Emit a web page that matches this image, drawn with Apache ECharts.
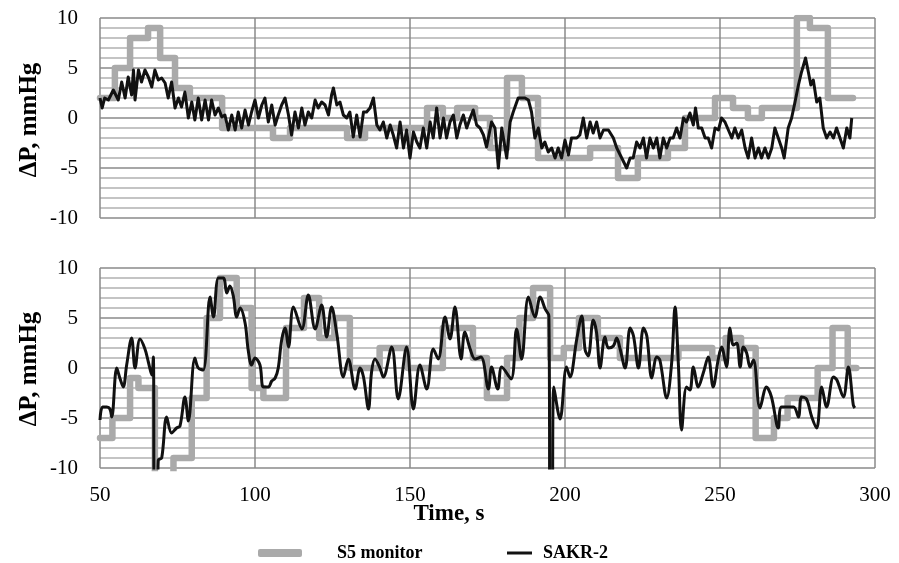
<!DOCTYPE html>
<html><head><meta charset="utf-8">
<script src="https://cdn.jsdelivr.net/npm/echarts@6/dist/echarts.min.js"></script>
<style>html,body{margin:0;padding:0;background:#fff}#c{width:899px;height:563px}</style>
</head><body><div id="c"></div>
<script>
// axis settings
const xTicks = [50, 100, 150, 200, 250, 300];
const yTicks = [-10, -5, 0, 5, 10];
const seriesNames = ['S5 monitor', 'SAKR-2'];
const xTitle = 'Time, s';
const yTitle = 'ΔP, mmHg';

// Top panel – S5 monitor (step values: each value holds until next time)
const topS5Time = [50,54.8,59.7,65.5,69.4,74.2,79,89.4,105.8,111.3,129.7,135.5,155.5,160.6,165.2,171,175.8,181.3,186.1,191.3,208.1,217.1,223.5,233.2,238.7,248.4,254.2,259,263.5,274.8,279,284.8,292.9];
const topS5Val  = [2,5,8,9,6,3,2,-1,-2,-1,-2,-1,1,0,1,0,-3,4,2,-4,-3,-6,-4,-3,0,2,1,0,1,10,9,2,2];

// Top panel – SAKR-2
const topSakrTime = [50,50.7,51.5,52.7,54.3,55.9,57.0,58.1,59.1,60.2,60.8,61.3,62.4,63.4,64.5,65.6,66.7,67.7,68.8,69.9,71.0,72.0,73.1,74.2,75.3,76.3,77.4,78.5,79.6,80.6,81.7,82.8,83.9,85.0,86.0,87.1,88.2,89.3,90.3,91.4,92.5,93.6,94.6,95.7,96.8,97.9,98.9,100.0,101.1,102.2,103.2,104.3,105.4,106.5,107.5,108.6,109.7,110.8,111.8,112.9,114.0,115.1,116.1,117.2,118.3,119.4,120.4,121.5,122.6,123.7,124.7,125.3,126.4,127.4,128.5,129.6,130.6,131.7,132.8,133.9,135.0,136.0,137.1,138.2,139.3,140.3,141.4,142.5,143.6,144.6,145.7,146.8,147.9,148.9,150.0,151.1,152.2,153.2,154.3,155.4,156.5,157.5,158.6,159.7,160.8,161.8,162.9,164.0,165.1,166.1,167.2,168.3,169.4,170.4,171.5,172.6,173.7,174.7,176.3,177.4,178.5,179.6,181.2,182.3,183.3,184.9,187.1,188.2,189.2,190.3,191.4,192.5,193.5,194.6,195.7,196.8,197.8,198.9,200.0,201.1,202.1,203.8,204.8,205.9,207.0,208.1,209.1,210.2,211.3,212.4,214.0,215.6,216.7,218.3,219.9,221.0,222.0,223.1,224.2,225.3,226.3,227.4,228.5,229.6,230.6,231.7,232.8,233.9,234.9,236.0,237.1,238.2,239.2,240.3,241.4,242.1,243.0,244.1,245.2,246.2,247.3,248.4,249.5,250.5,251.6,252.7,253.8,254.8,255.9,257.0,258.1,259.1,260.2,261.3,262.4,263.4,264.5,265.6,266.7,267.7,268.8,269.9,270.7,272.0,273.1,274.2,275.3,276.3,277.6,278.5,279.3,280.1,281.2,282.2,283.3,284.4,285.5,286.6,287.6,288.7,289.8,290.9,291.9,292.5];
const topSakrVal  = [2.0,1.0,2.0,1.8,2.8,1.8,3.6,2.0,4.1,2.3,4.8,1.8,4.8,3.6,4.8,4.1,3.1,4.8,3.8,4.0,3.5,2.0,3.6,1.0,2.0,1.1,2.6,0,1.6,-0.2,2.0,-0.2,1.8,-0.2,1.8,0.3,1.0,0.1,0.3,-1.2,0.3,-1.2,0.6,-1.0,0.8,-0.7,0.6,1.8,0,1.3,2.0,-0.4,1.3,-0.7,0.3,1.3,2.0,0.3,-1.7,0.6,-1.0,1.0,-0.7,0.6,0,1.8,1.0,1.6,1.3,0.3,2.3,3.0,1.3,1.6,0.3,0,0.6,-1.9,0.3,-1.9,0.6,0.6,1.0,2.0,-0.7,-1.2,-0.4,-2.0,-0.7,-1.7,-3.0,-0.4,-3.0,-1.2,-4.0,-1.4,-2.4,-3.0,-1.0,-3.0,-0.4,-2.0,1.0,-2.0,0,-2.0,-0.4,0.3,-2.0,-0.7,0.3,-1.0,0,0.8,-0.7,-1.0,-1.7,-2.9,-0.4,-1.0,-5.0,-1.0,-4.0,-0.4,0.6,2.0,2.0,1.8,0.6,-2.0,-1.0,-3.0,-2.4,-3.4,-3.0,-4.0,-3.0,-4.0,-2.2,-3.7,-2.0,-2.0,-1.7,0,-2.0,-0.4,-1.5,-0.4,-2.0,-1.2,-1.2,-2.0,-3.0,-4.0,-5.0,-4.0,-4.0,-2.4,-3.0,-2.0,-4.0,-2.0,-3.0,-2.0,-4.0,-2.0,-3.0,-2.0,-2.0,-1.0,-2.0,0,-0.4,0.5,-0.7,1.0,-1.0,-1.0,-2.0,-2.0,-3.0,-1.0,-1.2,0,-0.4,-1.2,-2.0,-1.0,-2.0,-1.2,-3.0,-4.0,-2.0,-4.0,-3.0,-4.0,-3.0,-4.0,-3.0,-1.0,-2.0,-3.0,-4.0,-1.0,0,1.6,3.3,4.6,6.0,4.6,3.3,3.8,1.6,2.0,-1.0,-2.0,-1.4,-2.0,-1.0,-2.0,-3.0,-1.0,-2.0,0];

// Bottom panel – S5 monitor
const botS5Time = [50,54,59.7,62.4,67.7,73.7,79.6,84.4,88.7,94.1,98.9,102.7,110,115.8,120.7,125.6,130.6,140.2,149.3,160.6,170.3,174.8,181.3,185.3,189.7,195.2,199.6,204.5,210.6,217.7,236.6,247.5,251.8,256.8,261.5,267.4,271.8,281.5,286.3,291.2,294];
const botS5Val  = [-7,-5,-1,-2,-11,-9,-3,5,9,6,-2,-3,4,7,3,5,0,2,0,4,1,-3,1,5,8,1,2,5,3,1,2,1,3,2,-7,-5,-3,0,4,0,0];

// Bottom panel – SAKR-2
const botSakrTime = [50.0,50.8,52.2,53.2,53.8,55.4,56.5,57.5,58.6,60.2,61.3,62.9,64.5,65.6,66.7,67.2,67.6,68.4,68.8,69.9,71.5,73.1,74.7,75.8,77.4,78.5,80.6,81.7,83.3,85.5,86.6,88.2,89.8,90.9,91.9,93.0,94.1,95.2,96.8,97.8,98.9,100.0,101.6,102.7,104.3,105.4,106.5,107.5,108.6,109.7,110.8,112.4,115.1,117.2,119.4,121.5,123.1,124.7,126.4,128.5,130.1,132.3,133.9,135.0,136.6,137.6,138.7,140.3,141.4,144.1,146.2,148.9,151.1,153.2,155.4,157.5,159.1,161.3,162.9,164.5,166.5,167.7,169.4,171.0,172.9,175.3,176.3,178.3,179.6,182.6,184.4,186.0,188.2,190.3,192.0,193.6,194.8,195.2,195.8,196.4,198.4,200.5,201.6,203.8,205.4,206.5,207.5,209.1,210.2,211.3,212.9,214.0,215.6,216.7,217.7,219.4,221.0,222.1,223.7,225.3,226.4,228.0,229.6,230.6,232.8,234.4,235.5,236.6,237.6,239.2,240.3,241.4,243.0,244.6,246.2,247.8,249.4,250.5,252.1,253.2,254.3,255.4,256.5,257.5,258.6,259.7,260.8,262.9,265.0,266.6,268.8,269.9,273.7,275.3,276.3,277.9,279.6,281.2,282.8,284.4,286.6,287.7,289.8,291.4,293.0,293.5];
const botSakrVal  = [-5.2,-3.9,-3.9,-4.1,-4.9,0,-1.1,-1.9,0.3,3.0,0,2.9,1.9,0.6,-0.7,1.1,-16,-16,-9.2,-9.0,-4.9,-6.5,-6.0,-5.8,-2.9,-5.3,1.0,0,-0.2,7.1,5.1,9.0,9.0,7.5,8.2,7.2,5.1,6.0,4.5,1.8,0.3,1.0,0.3,-1.9,-1.9,-1.3,-1.0,0,2.8,4.0,2.1,6.1,3.9,7.3,3.9,6.3,3.1,6.1,3.4,-0.9,0.9,-2.1,0,-0.9,-4.1,-0.4,0.9,0,-0.9,2.1,-3.1,2.1,-4.1,0.3,-2.1,1.9,0.9,5.1,2.9,6.1,0.9,3.6,1.9,0.9,1.1,-2.1,0.1,-2.1,0.1,-1.1,3.9,0.9,7.1,5.1,7.1,5.9,5.2,-16,-16,-1.9,-5.1,0.1,-0.9,2.9,5.2,1.8,1.2,4.8,3.5,0,3.1,2.0,2.2,3.0,2.0,0,4.0,3.2,0,4.0,3.2,-1.0,1.1,0.8,-3.0,0.5,6.1,0.2,-6.2,-1.9,-2.2,0.1,-1.9,-0.5,1.1,-1.9,0.8,2.1,0.1,4.0,2.3,2.5,0.1,2.1,1.5,0.1,0.8,-4.0,-1.9,-2.9,-6.0,-3.9,-3.9,-4.9,-2.9,-3.1,-4.9,-6.0,-1.9,-3.9,-0.9,-1.2,-2.9,0.1,-3.7,-4.0];

function pairs(ts, vs) { return ts.map((t, i) => [t, vs[i]]); }

const FONT = 'Liberation Serif, Times New Roman, serif';
const grayC = '#aaaaaa', blackC = '#111111';
const majorC = '#8a8a8a', minorC = '#c4c4c4';

function xAxisCfg(gridIndex, showLabels) {
  return {
    type: 'value', gridIndex, min: xTicks[0], max: xTicks[xTicks.length - 1], interval: xTicks[1] - xTicks[0],
    axisLine: { show: false, onZero: false }, axisTick: { show: false },
    axisLabel: { show: showLabels, fontFamily: FONT, fontSize: 21, color: '#000', margin: 17 },
    splitLine: { show: true, lineStyle: { color: majorC, width: 1.5 } }
  };
}
function yAxisCfg(gridIndex) {
  return {
    type: 'value', gridIndex, min: yTicks[0], max: yTicks[yTicks.length - 1], interval: yTicks[1] - yTicks[0],
    axisLine: { show: false }, axisTick: { show: false },
    minorTick: { show: false, splitNumber: 5 },
    minorSplitLine: { show: true, lineStyle: { color: minorC, width: 2 } },
    axisLabel: { fontFamily: FONT, fontSize: 21, color: '#000', margin: 22 },
    splitLine: { show: true, lineStyle: { color: majorC, width: 1.5 } }
  };
}
function grayS(xi, data) {
  return { name: seriesNames[0], type: 'line', step: 'end', xAxisIndex: xi, yAxisIndex: xi, data, showSymbol: false, silent: true,
    itemStyle: { color: grayC }, lineStyle: { color: grayC, width: 6.5, cap: 'round', join: 'round' }, z: 2 };
}
function blackS(xi, data, smooth) {
  return { name: seriesNames[1], type: 'line', xAxisIndex: xi, yAxisIndex: xi, data, showSymbol: false, silent: true,
    smooth: smooth, itemStyle: { color: blackC }, lineStyle: { color: blackC, width: 3, join: 'round' }, z: 3 };
}

const chart = echarts.init(document.getElementById('c'), null, { renderer: 'canvas' });
chart.setOption({
  animation: false,
  backgroundColor: '#fff',
  grid: [
    { left: 100, top: 18, width: 775, height: 200 },
    { left: 100, top: 268, width: 775, height: 200 }
  ],
  xAxis: [xAxisCfg(0, false), xAxisCfg(1, true)],
  yAxis: [yAxisCfg(0), yAxisCfg(1)],
  legend: [
    { data: [seriesNames[0]], left: 258, top: 544, padding: 0, itemWidth: 44, itemHeight: 8, icon: 'roundRect',
      textStyle: { fontFamily: FONT, fontWeight: 'bold', fontSize: 18, color: '#000', padding: [0, 0, 0, 30] } },
    { data: [seriesNames[1]], left: 507, top: 544, padding: 0, itemWidth: 25, itemHeight: 3, icon: 'rect',
      textStyle: { fontFamily: FONT, fontWeight: 'bold', fontSize: 18, color: '#000', padding: [0, 0, 0, 6] } }
  ],
  graphic: [
    { type: 'text', x: 449, y: 514, style: { text: xTitle, font: 'bold 23px ' + FONT, fill: '#000', align: 'center', verticalAlign: 'middle' } },
    { type: 'text', x: 30, y: 120, rotation: Math.PI / 2, style: { text: yTitle, font: 'bold 25px ' + FONT, fill: '#000', align: 'center', verticalAlign: 'middle' } },
    { type: 'text', x: 30, y: 369, rotation: Math.PI / 2, style: { text: yTitle, font: 'bold 25px ' + FONT, fill: '#000', align: 'center', verticalAlign: 'middle' } }
  ],
  series: [
    grayS(0, pairs(topS5Time, topS5Val)),
    blackS(0, pairs(topSakrTime, topSakrVal), false),
    grayS(1, pairs(botS5Time, botS5Val)),
    blackS(1, pairs(botSakrTime, botSakrVal), 0.35)
  ]
});
</script></body></html>
